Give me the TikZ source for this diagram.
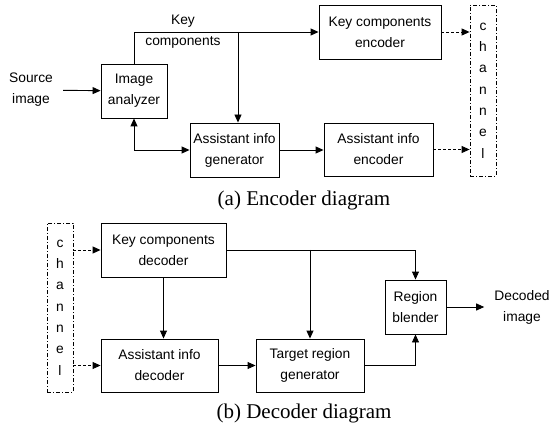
\documentclass[tikz,border=0pt]{standalone}
\usepackage{fontspec}
\setmainfont{Liberation Sans}
\newfontfamily\capfont{Liberation Serif}
\usetikzlibrary{arrows.meta,positioning,calc}

\begin{document}
\begin{tikzpicture}[x=1pt, y=-1pt,
			block/.style={rectangle, draw, line width=0.9pt, align=center, inner sep=0pt, font=\fontsize{13.8}{21}\selectfont},
			label/.style={align=center, inner xsep=10pt, inner ysep=0pt, font=\fontsize{13.8}{21}\selectfont},
			chan/.style={rectangle, draw, line width=0.8pt, dash pattern=on 4pt off 2pt on 1pt off 2pt, minimum width=26pt, align=center, inner sep=0pt, font=\fontsize{13.8}{21.3}\selectfont},
			link/.style={-{Triangle[length=8pt,width=7pt]}, line width=0.9pt},
			dlink/.style={link, dash pattern=on 3pt off 2pt},
			caption/.style={font=\capfont\fontsize{21}{25}\selectfont}
			]
			\useasboundingbox (0,0) rectangle (551,430);
			
			\node[label] (src) at (31,90) {Source\\image};
			\node[block, minimum width=66pt, minimum height=54pt] (analyzer) at (134,91) {Image\\analyzer};
			\node[block, minimum width=122pt, minimum height=54pt] (kce) at (380,32) {Key components\\encoder};
			\node[block, minimum width=89pt, minimum height=54pt] (aig) at (234.5,150) {Assistant info\\generator};
			\node[block, minimum width=109pt, minimum height=53pt] (aie) at (378.5,149.5) {Assistant info\\encoder};
			\node[chan, minimum height=171pt] (chE) at (483,90.5) {c\\h\\a\\n\\n\\e\\l};
			\node[label] (keylbl) at (183,32) {Key\\components};
			\node[caption] (capA) at (304,200) {(a) Encoder diagram};
			
			\draw[link] (src) -- (analyzer);
			\draw[link] (analyzer.north) |- (kce.west);
			\coordinate (kbr) at (238,32);
			\draw[link] (kbr) -- (kbr |- aig.north);
			\draw[{Triangle[length=8pt,width=7pt]}-{Triangle[length=8pt,width=7pt]}, line width=0.9pt] (analyzer.south) |- (aig.west);
			\draw[link] (aig.east) -- (aig.east -| aie.west);
			\draw[dlink] (kce.east) -- (kce.east -| chE.west);
			\draw[dlink] (aie.east) -- (aie.east -| chE.west);
			
			\node[chan, minimum height=169pt] (chD) at (60,307.5) {c\\h\\a\\n\\n\\e\\l};
			\node[block, minimum width=125pt, minimum height=54pt] (kcd) at (163.5,250) {Key components\\decoder};
			\node[block, minimum width=117pt, minimum height=53pt] (aid) at (159.5,365.5) {Assistant info\\decoder};
			\node[block, minimum width=108pt, minimum height=53pt] (trg) at (310,365.5) {Target region\\generator};
			\node[block, minimum width=61pt, minimum height=54pt] (rb) at (415.5,307) {Region\\blender};
			\node[label] (dec) at (522,307) {Decoded\\image};
			\node[caption] (capB) at (304,413) {(b) Decoder diagram};
			
			\draw[dlink] (kcd.west -| chD.east) -- (kcd.west);
			\draw[dlink] (aid.west -| chD.east) -- (aid.west);
			\draw[link] (kcd.south) -- (kcd.south |- aid.north);
			\draw[link] (aid.east) -- (aid.east -| trg.west);
			\draw[link] (kcd.east) -| (rb.north);
			\coordinate (dbr) at (trg.north |- kcd.east);
			\draw[link] (dbr) -- (trg.north);
			\draw[link] (trg.east) -| (rb.south);
			\draw[link] (rb.east) -- (dec);
		\end{tikzpicture}
\end{document}
